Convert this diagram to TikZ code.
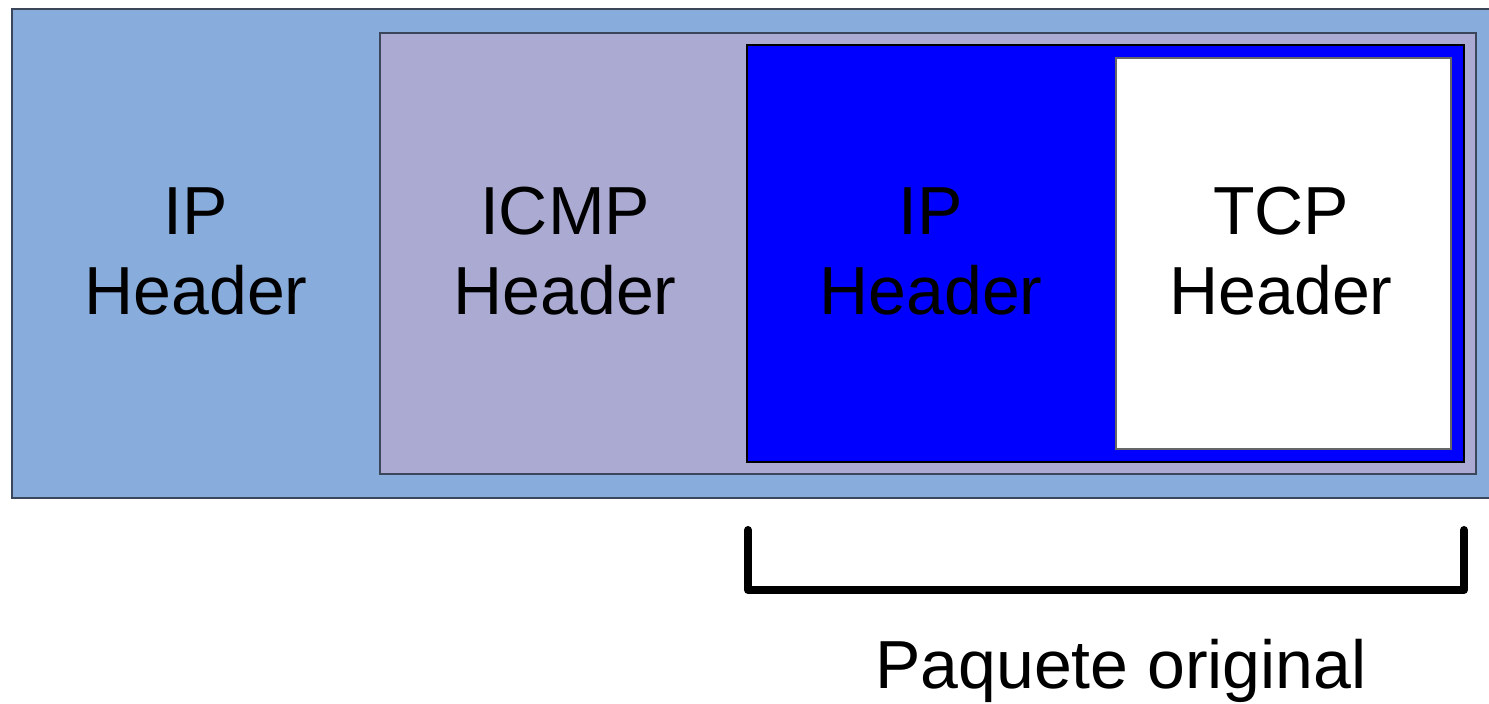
\documentclass[tikz,border=0pt]{standalone}
\usepackage{fontspec}
\setmainfont{Liberation Sans}
\usetikzlibrary{fit}
\definecolor{outerblue}{RGB}{136,172,219}
\definecolor{icmpfill}{RGB}{170,170,210}
\definecolor{purebl}{RGB}{0,0,255}
\definecolor{edgecol}{RGB}{60,70,90}
\tikzset{
  layer/.style={draw=edgecol, line width=1pt, inner sep=0pt},
  lbl/.style={align=center, inner sep=0pt, text=black, font=\fontsize{34}{40}\selectfont},
  brace/.style={line width=4pt, line cap=round, line join=round, black}
}
\begin{document}
\begin{tikzpicture}[x=0.5pt,y=-0.5pt]
\useasboundingbox (0,0) rectangle (1489,704);
\clip (0,0) rectangle (1489,704);
\node[layer, fill=outerblue, fit={(12,9)(1500,498)}] (outer) {};
\node[layer, fill=icmpfill, fit={(380,33)(1476,474)}] (icmp) {};
\node[layer, draw=black, fill=purebl, fit={(747,45)(1464,462)}] (orig) {};
\node[layer, draw=black!60, fill=white, fit={(1116,58)(1451,449)}] (tcp) {};
\node[lbl] (l1) at (196,251.5) {IP\\Header};
\node[lbl] (l2) at (565,251.5) {ICMP\\Header};
\node[lbl] (l3) at (931,251.5) {IP\\Header};
\node[lbl] (l4) at (1281,251.5) {TCP\\Header};
\coordinate (b1) at (748,530);
\coordinate (b2) at (748,590);
\coordinate (b3) at (1464,590);
\coordinate (b4) at (1464,530);
\draw[brace] (b1) -- (b2) -- (b3) -- (b4);
\node[lbl, anchor=base] (cap) at (1121,689) {Paquete original};
\end{tikzpicture}
\end{document}
